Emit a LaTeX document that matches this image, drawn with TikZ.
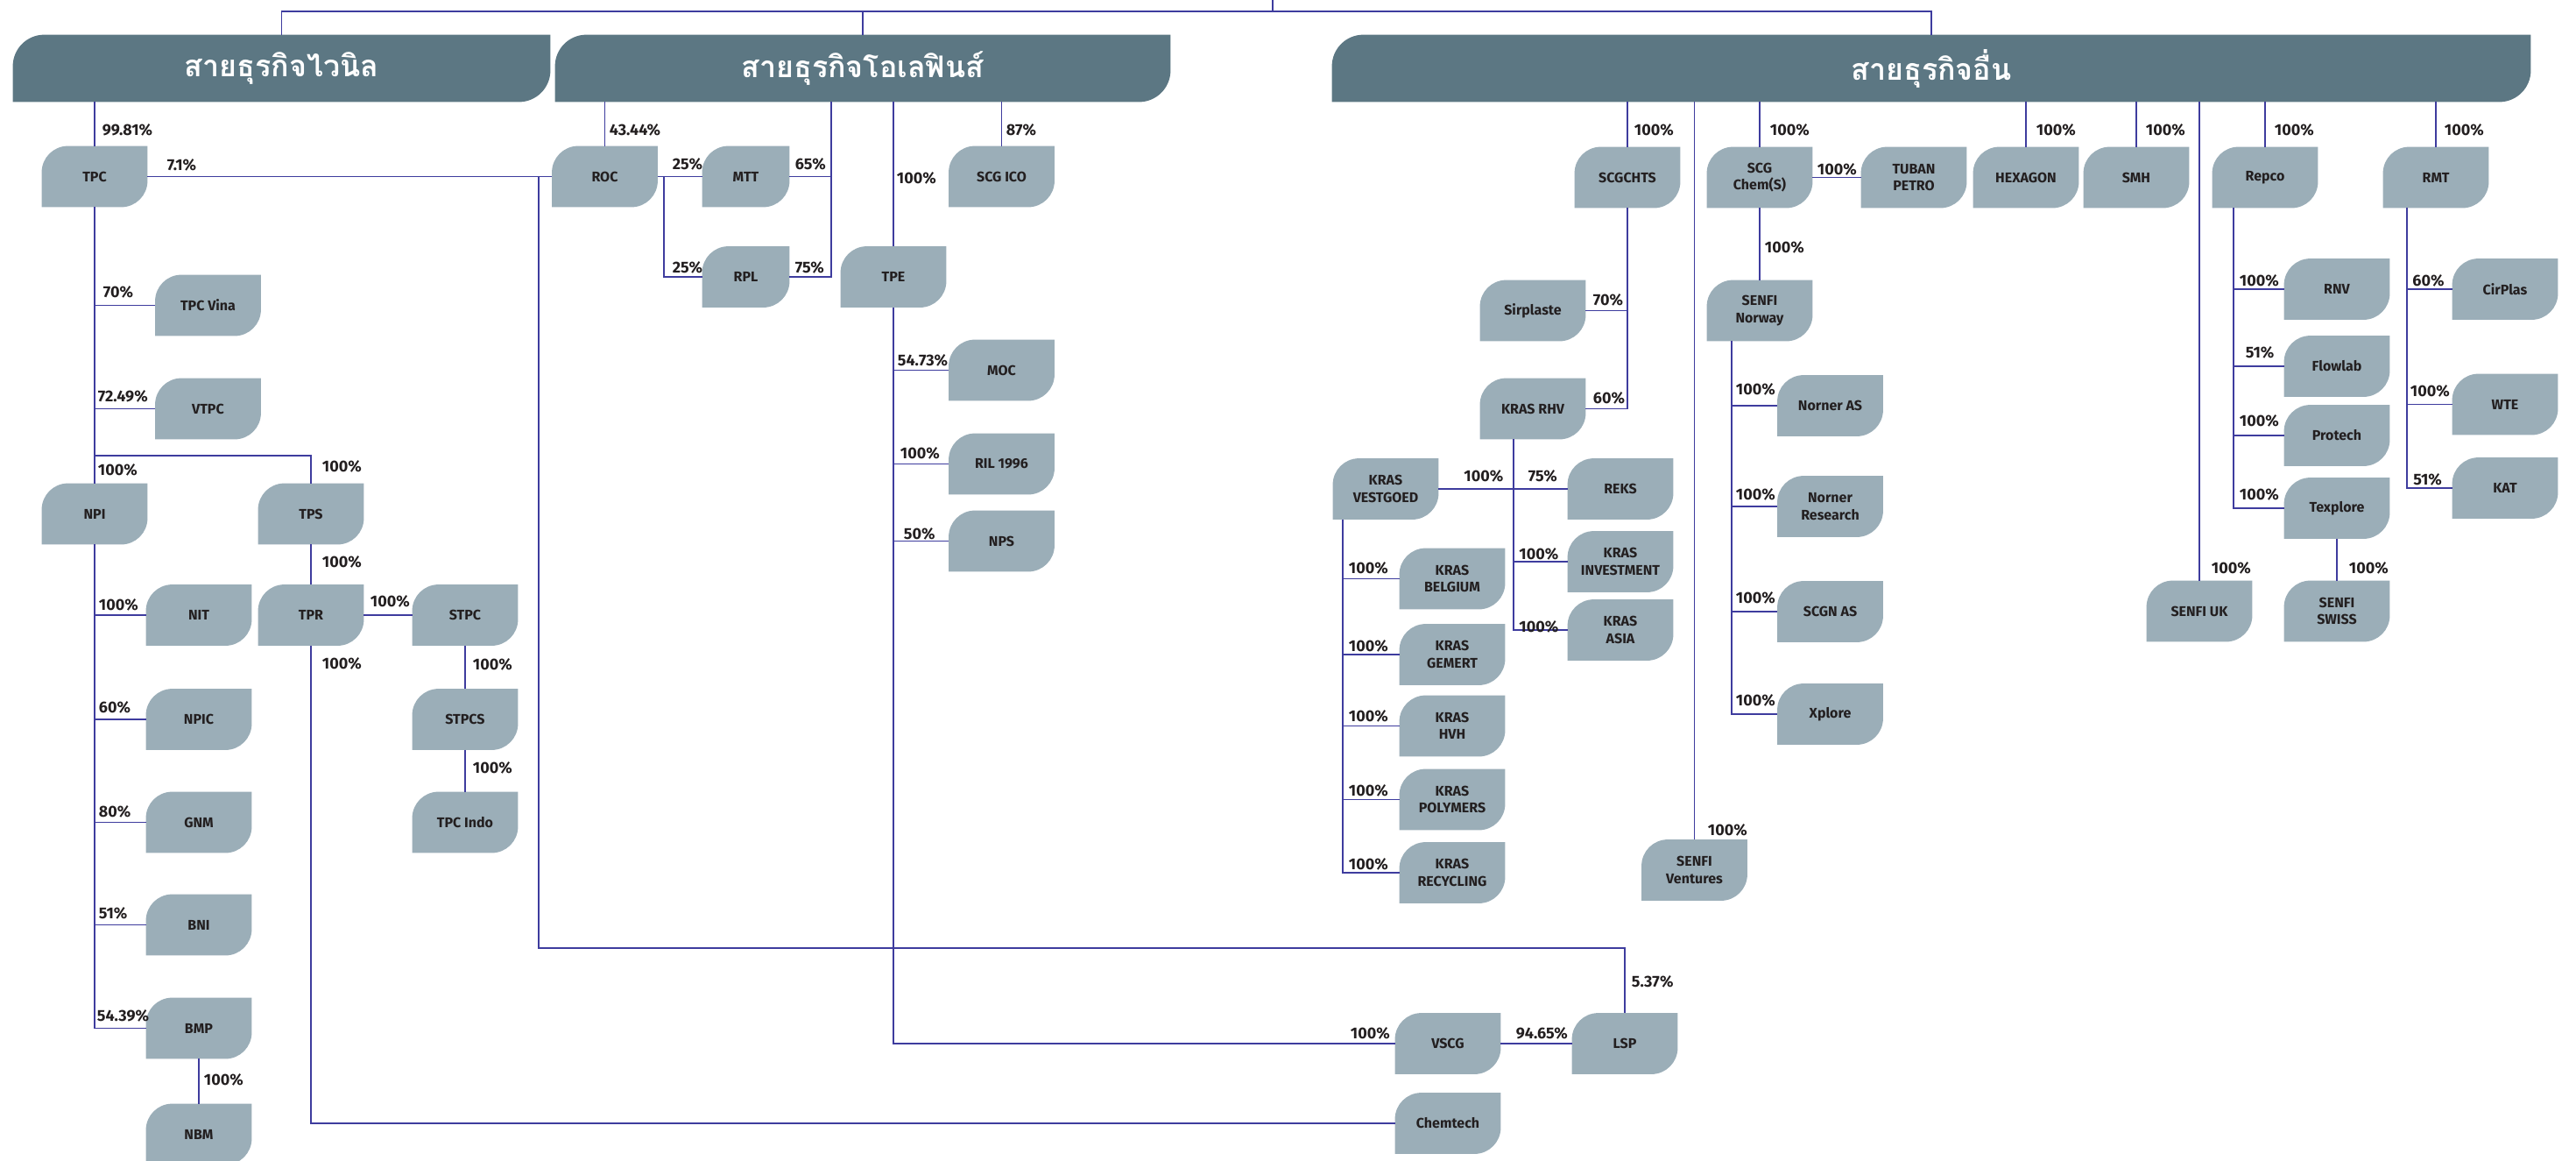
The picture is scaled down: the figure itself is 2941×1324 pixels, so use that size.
\documentclass[tikz,border=0pt]{standalone}
\usepackage{fontspec}
\setmainfont{Fira Sans}
\newfontfamily\thaifont[Script=Thai]{Loma}
\usetikzlibrary{backgrounds}

\definecolor{unitfill}{RGB}{155,174,184}
\definecolor{groupfill}{RGB}{92,119,131}
\definecolor{linkblue}{RGB}{62,60,158}
\definecolor{textdark}{RGB}{35,31,32}

% box with round top left and bottom right corners
\newcommand\leafbg[3]{%
  \fill[#3] (#1.south west) -- ([yshift=-#2]#1.north west)
    arc[start angle=180, end angle=90, radius=#2] -- (#1.north east)
    -- ([yshift=#2]#1.south east) arc[start angle=0, end angle=-90, radius=#2] -- cycle;}

\begin{document}
\begin{tikzpicture}[
    x=0.5pt, y=-0.5pt,
    unit/.style={minimum width=60pt, minimum height=34.5pt, inner sep=1pt, align=center, text=textdark, font=\bfseries\fontsize{8}{9.6}\selectfont},
    narrow/.style={unit, minimum width=49.5pt},
    group/.style={minimum height=38pt, inner sep=0pt, text=white, font=\thaifont\bfseries\fontsize{17}{20}\selectfont},
    pct/.style={inner sep=0pt, anchor=west, text=textdark, font=\bfseries\fontsize{9}{10}\selectfont},
    link/.style={draw=linkblue, line width=0.9pt}
]
\useasboundingbox (0,0) rectangle (2941,1324);

   % Business groups
   \node[group, minimum width=306.5pt] (vinyl)   at (321.5,78) {สายธุรกิจไวนิล};
   \node[group, minimum width=351pt]   (olefins) at (985,78)   {สายธุรกิจโอเลฟินส์};
   \node[group, minimum width=684pt]   (others)  at (2205,78)  {สายธุรกิจอื่น};

   % Vinyl
   \node[unit] (tpc)     at (108,201.5)   {TPC};
   \node[unit] (tpcvina) at (237.5,348.5) {TPC Vina};
   \node[unit] (vtpc)    at (237.5,466.5) {VTPC};
   \node[unit] (npi)     at (108,586.5)   {NPI};
   \node[unit] (tps)     at (355,586.5)   {TPS};
   \node[unit] (nit)     at (227,702)     {NIT};
   \node[unit] (tpr)     at (355,702)     {TPR};
   \node[unit] (stpc)    at (531,702)     {STPC};
   \node[unit] (npic)    at (227,821)     {NPIC};
   \node[unit] (stpcs)   at (531,821)     {STPCS};
   \node[unit] (gnm)     at (227,938.5)   {GNM};
   \node[unit] (tpcindo) at (531,938.5)   {TPC Indo};
   \node[unit] (bni)     at (227,1055.5)  {BNI};
   \node[unit] (bmp)     at (227,1173.5)  {BMP};
   \node[unit] (nbm)     at (227,1294.5)  {NBM};

   % Olefins
   \node[unit]   (roc)    at (690.5,201.5)  {ROC};
   \node[narrow] (mtt)    at (851.5,201.5)  {MTT};
   \node[narrow] (rpl)    at (851.5,316)    {RPL};
   \node[unit]   (tpe)    at (1020,316)     {TPE};
   \node[unit]   (scgico) at (1143.5,201.5) {SCG ICO};
   \node[unit]   (moc)    at (1143.5,422.5) {MOC};
   \node[unit]   (ril)    at (1143.5,529.5) {RIL 1996};
   \node[unit]   (nps)    at (1143.5,617.5) {NPS};
   \node[unit]   (vscg)   at (1653,1191)    {VSCG};
   \node[unit]   (lsp)    at (1855,1191)    {LSP};
   \node[unit]   (chemtech) at (1653,1282)  {Chemtech};

   % Others
   \node[unit] (scgchts)  at (1858,202.5) {SCGCHTS};
   \node[unit] (scgchem)  at (2009,202.5) {SCG\\Chem(S)};
   \node[unit] (tuban)    at (2185,202.5) {TUBAN\\PETRO};
   \node[unit] (hexagon)  at (2313,202.5) {HEXAGON};
   \node[unit] (smh)      at (2439,202.5) {SMH};
   \node[unit] (repco)    at (2586,202.5) {Repco};
   \node[unit] (rmt)      at (2781,202.5) {RMT};
   \node[unit] (sirplaste) at (1750,354.5) {Sirplaste};
   \node[unit] (krasrhv)  at (1750,466.5) {KRAS RHV};
   \node[unit] (vestgoed) at (1582,558)   {KRAS\\VESTGOED};
   \node[unit] (reks)     at (1850,558)   {REKS};
   \node[unit] (investment) at (1850,641) {KRAS\\INVESTMENT};
   \node[unit] (krasasia) at (1850,719)   {KRAS\\ASIA};
   \node[unit] (belgium)  at (1658,660.5) {KRAS\\BELGIUM};
   \node[unit] (gemert)   at (1658,747)   {KRAS\\GEMERT};
   \node[unit] (hvh)      at (1658,828.5) {KRAS\\HVH};
   \node[unit] (polymers) at (1658,912.5) {KRAS\\POLYMERS};
   \node[unit] (recycling) at (1658,996)  {KRAS\\RECYCLING};
   \node[unit] (senfinorway) at (2009,354.5) {SENFI\\Norway};
   \node[unit] (norner)   at (2089.5,463) {Norner AS};
   \node[unit] (research) at (2089.5,578) {Norner\\Research};
   \node[unit] (scgn)     at (2089.5,698) {SCGN AS};
   \node[unit] (xplore)   at (2089.5,815) {Xplore};
   \node[unit] (senfiventures) at (1934.5,993) {SENFI\\Ventures};
   \node[unit] (rnv)      at (2668,330)   {RNV};
   \node[unit] (flowlab)  at (2668,418)   {Flowlab};
   \node[unit] (protech)  at (2668,497)   {Protech};
   \node[unit] (texplore) at (2668,580)   {Texplore};
   \node[unit] (senfiswiss) at (2668,697.5) {SENFI\\SWISS};
   \node[unit] (senfiuk)  at (2511,697.5) {SENFI UK};
   \node[unit] (cirplas)  at (2860,330)   {CirPlas};
   \node[unit] (wte)      at (2860,461.5) {WTE};
   \node[unit] (kat)      at (2860,557)   {KAT};

\begin{scope}[on background layer]
   % Boxes
   \foreach \n in {tpc,tpcvina,vtpc,npi,tps,nit,tpr,stpc,npic,stpcs,gnm,tpcindo,bni,bmp,nbm,
                   roc,mtt,rpl,tpe,scgico,moc,ril,nps,vscg,lsp,chemtech,
                   scgchts,scgchem,tuban,hexagon,smh,repco,rmt,sirplaste,krasrhv,vestgoed,reks,
                   investment,krasasia,belgium,gemert,hvh,polymers,recycling,senfinorway,norner,
                   research,scgn,xplore,senfiventures,rnv,flowlab,protech,texplore,senfiswiss,
                   senfiuk,cirplas,wte,kat}
     {\leafbg{\n}{15pt}{unitfill}}
   \foreach \n in {vinyl,olefins,others}
     {\leafbg{\n}{18pt}{groupfill}}

   % Groups bus
   \coordinate (parent) at (1453,0);
   \coordinate (bus) at (1453,13);
   \draw[link] (vinyl.north) |- (bus) -| (others.north);
   \draw[link] (parent) -- (bus);
   \draw[link] (olefins.north |- bus) -- (olefins.north);

   % Vinyl links
   \draw[link] (tpc.north |- vinyl.south) -- (tpc.north) node[pct] at (116,148) {99.81\%};
   \draw[link] (tpc.east) -- (roc.west) node[pct] at (190,188) {7.1\%};
   \coordinate (lspsplit) at (615,201.5);
   \coordinate (lspbend) at (1855,1082);
   \draw[link] (lspsplit) |- (lspbend) -- (lsp.north) node[pct] at (1862,1120) {5.37\%};
   \draw[link] (tpc.south) -- (npi.north) node[pct] at (111,536) {100\%};
   \draw[link] (npi.south) -- (npi.south |- bmp.west);
   \foreach \n/\p/\lx/\ly in {tpcvina/70/117/333.5, vtpc/72.49/111/452, nit/100/112/690,
                              npic/60/112/807, gnm/80/112/926, bni/51/112/1042.5, bmp/54.39/110/1159.5}
     \draw[link] (tpc.south |- \n.west) -- (\n.west) node[pct] at (\lx,\ly) {\p\%};
   \coordinate (tpsbend) at (108,520);
   \draw[link] (tpsbend) -| (tps.north) node[pct] at (367,532) {100\%};
   \draw[link] (tps.south) -- (tpr.north) node[pct] at (367,641) {100\%};
   \draw[link] (tpr.east) -- (stpc.west) node[pct] at (422,686) {100\%};
   \draw[link] (tpr.south) |- (chemtech.west) node[pct] at (367,757) {100\%};
   \draw[link] (stpc.south) -- (stpcs.north) node[pct] at (539,758) {100\%};
   \draw[link] (stpcs.south) -- (tpcindo.north) node[pct] at (539,876) {100\%};
   \draw[link] (bmp.south) -- (nbm.north) node[pct] at (232,1232) {100\%};

   % Olefins links
   \draw[link] (roc.north |- olefins.south) -- (roc.north) node[pct] at (695,148) {43.44\%};
   \draw[link] (roc.east) -- (mtt.west) node[pct] at (767,187) {25\%};
   \coordinate (rocsplit) at ([xshift=3.5pt]roc.east);
   \draw[link] (rocsplit) |- (rpl.west) node[pct] at (767,305) {25\%};
   \coordinate (olefinsdrop) at (949,116);
   \draw[link] (olefinsdrop) |- (rpl.east) node[pct] at (907,305) {75\%};
   \draw[link] (mtt.east) -- (mtt.east -| olefinsdrop) node[pct] at (907,187) {65\%};
   \draw[link] (tpe.north |- olefins.south) -- (tpe.north) node[pct] at (1023,203) {100\%};
   \draw[link] (scgico.north |- olefins.south) -- (scgico.north) node[pct] at (1148,148) {87\%};
   \draw[link] (tpe.south) |- (vscg.west) node[pct] at (1541,1179) {100\%};
   \foreach \n/\p/\lx/\ly in {moc/54.73/1024/411, ril/100/1027/517, nps/50/1031/609}
     \draw[link] (tpe.south |- \n.west) -- (\n.west) node[pct] at (\lx,\ly) {\p\%};
   \draw[link] (vscg.east) -- (lsp.west) node[pct] at (1730,1179) {94.65\%};

   % Others links
   \foreach \n/\lx in {scgchts/1865, scgchem/2020, hexagon/2324, smh/2449, repco/2596, rmt/2790}
     \draw[link] (\n.north |- others.south) -- (\n.north) node[pct] at (\lx,148) {100\%};
   \draw[link] (senfiventures.north |- others.south) -- (senfiventures.north) node[pct] at (1949,947) {100\%};
   \draw[link] (senfiuk.north |- others.south) -- (senfiuk.north) node[pct] at (2524,648) {100\%};
   \draw[link] (scgchem.east) -- (tuban.west) node[pct] at (2074,193) {100\%};
   \draw[link] (scgchem.south) -- (senfinorway.north) node[pct] at (2014,282) {100\%};
   \draw[link] (scgchts.south) |- (krasrhv.east) node[pct] at (1818,454) {60\%};
   \draw[link] (sirplaste.east) -- (sirplaste.east -| scgchts.south) node[pct] at (1818,342) {70\%};
   \coordinate (rhvtrunk) at ([xshift=-11pt]krasrhv.south);
   \draw[link] (rhvtrunk) |- (krasasia.west) node[pct] at (1733.5,715) {100\%};
   \draw[link] (rhvtrunk |- investment.west) -- (investment.west) node[pct] at (1733.5,632) {100\%};
   \draw[link] (vestgoed.east) -- (reks.west) node[pct] at (1670.5,543) {100\%} node[pct] at (1744,543) {75\%};
   \coordinate (vestgoedtrunk) at ([xshift=-24.5pt]vestgoed.south);
   \draw[link] (vestgoedtrunk) |- (recycling.west);
   \foreach \n/\ly in {belgium/648, gemert/737, hvh/817, polymers/902, recycling/986}
     \draw[link] (vestgoedtrunk |- \n.west) -- (\n.west) node[pct] at (1539,\ly) {100\%};
   \coordinate (norwaytrunk) at ([xshift=-16pt]senfinorway.south);
   \draw[link] (norwaytrunk) |- (xplore.west);
   \foreach \n/\ly in {norner/444.6, research/564, scgn/682, xplore/799}
     \draw[link] (norwaytrunk |- \n.west) -- (\n.west) node[pct] at (1981,\ly) {100\%};
   \coordinate (repcotrunk) at ([xshift=-18pt]repco.south);
   \draw[link] (repcotrunk) |- (texplore.west);
   \foreach \n/\p/\lx/\ly in {rnv/100/2556/320, flowlab/51/2563/402, protech/100/2556/480, texplore/100/2556/564}
     \draw[link] (repcotrunk |- \n.west) -- (\n.west) node[pct] at (\lx,\ly) {\p\%};
   \draw[link] (texplore.south) -- (senfiswiss.north) node[pct] at (2681,648) {100\%};
   \coordinate (rmttrunk) at ([xshift=-16.5pt]rmt.south);
   \draw[link] (rmttrunk) |- (kat.west);
   \foreach \n/\p/\lx/\ly in {cirplas/60/2753.5/320, wte/100/2751/446, kat/51/2754.5/547}
     \draw[link] (rmttrunk |- \n.west) -- (\n.west) node[pct] at (\lx,\ly) {\p\%};
\end{scope}

\end{tikzpicture}
\end{document}
